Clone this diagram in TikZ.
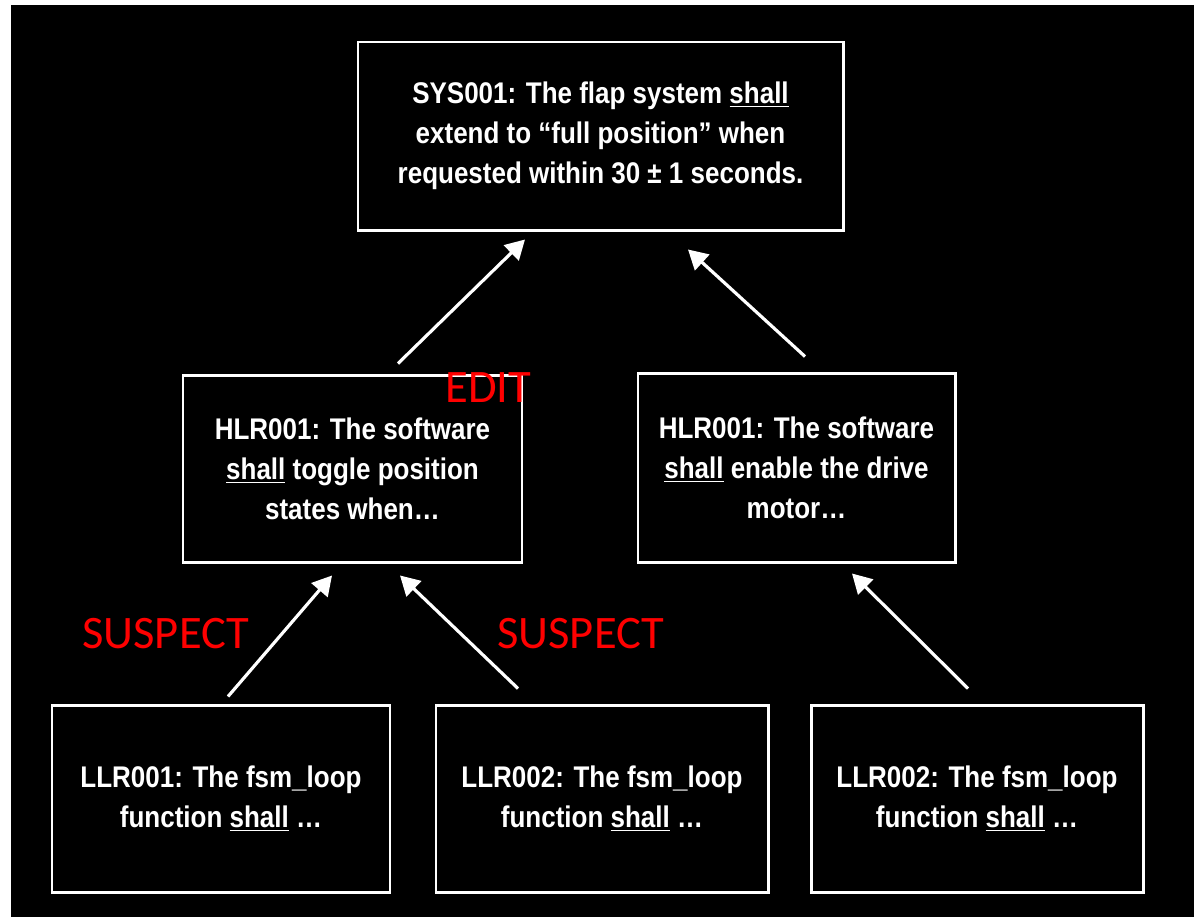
\documentclass[tikz,border=0pt]{standalone}
\usepackage{fontspec}
\newfontfamily\reqfont[FakeStretch=0.87]{Liberation Sans}
\newfontfamily\markfont{Carlito}
\usepackage{tikz}
\usetikzlibrary{calc,arrows.meta}

\newcommand{\shallU}{\underline{shall}}

\tikzset{
	req/.style={draw=white, line width=1.7pt, text=white, align=center, inner sep=0pt,
		font=\reqfont\bfseries\fontsize{17}{22.7}\selectfont},
	trace/.style={white, line width=1.8pt, -{Triangle[length=11pt,width=12pt]}},
	flag/.style={red, anchor=base west, inner sep=0pt, font=\markfont\fontsize{26.5}{30}\selectfont}
}

\begin{document}
\begin{tikzpicture}[x=0.02cm, y=-0.02cm]
	\newcommand{\px}{0.02cm}
	\newcommand{\boxh}{187}
	\newcommand{\llrw}{332}

	% background
	\fill[white] (0,0) rectangle (1194,917);
	\fill[black] (11,5) rectangle (1194,917);

	% requirement boxes
	\node[req, minimum width=485*\px, minimum height=188*\px] (sys) at (600.5,136)
		{SYS001: The flap system \shallU\\ extend to “full position” when\\ requested within 30 ± 1 seconds.};
	\node[req, minimum width=339*\px, minimum height=\boxh*\px] (hlrA) at (352.5,468.5)
		{HLR001: The software\\ \shallU{} toggle position\\ states when…};
	\node[req, minimum width=317*\px, minimum height=189*\px] (hlrB) at (796.5,467.5)
		{HLR001: The software\\ \shallU{} enable the drive\\ motor…};
	\node[req, minimum width=338*\px, minimum height=\boxh*\px] (llrA) at (221,798.5)
		{LLR001: The fsm\_loop\\ function \shallU{} …};
	\node[req, minimum width=\llrw*\px, minimum height=\boxh*\px] (llrB) at (602,798.5)
		{LLR002: The fsm\_loop\\ function \shallU{} …};
	\node[req, minimum width=\llrw*\px, minimum height=\boxh*\px] (llrC) at (977,798.5)
		{LLR002: The fsm\_loop\\ function \shallU{} …};

	% trace arrows
	\coordinate (a1s) at ($(hlrA.north)+(45.5,-10)$);
	\coordinate (a1e) at ($(sys.south)+(-75.5,8)$);
	\coordinate (a2s) at ($(hlrB.north)+(8.5,-15)$);
	\coordinate (a2e) at ($(sys.south)+(87.5,18)$);
	\coordinate (a3s) at ($(llrA.north)+(7,-7)$);
	\coordinate (a3e) at ($(hlrA.south)+(-20.5,12)$);
	\coordinate (a4s) at ($(llrB.north)+(-84,-15)$);
	\coordinate (a4e) at ($(hlrA.south)+(47.5,12)$);
	\coordinate (a5s) at ($(llrC.north)+(-9,-15)$);
	\coordinate (a5e) at ($(hlrB.south)+(55.5,10)$);

	\draw[trace] (a1s) -- (a1e);
	\draw[trace] (a2s) -- (a2e);
	\draw[trace] (a3s) -- (a3e);
	\draw[trace] (a4s) -- (a4e);
	\draw[trace] (a5s) -- (a5e);

	% markers
	\node[flag] (edit) at (445,402) {EDIT};
	\node[flag] (suspA) at (82,648) {SUSPECT};
	\node[flag] (suspB) at (497,648) {SUSPECT};
\end{tikzpicture}
\end{document}
